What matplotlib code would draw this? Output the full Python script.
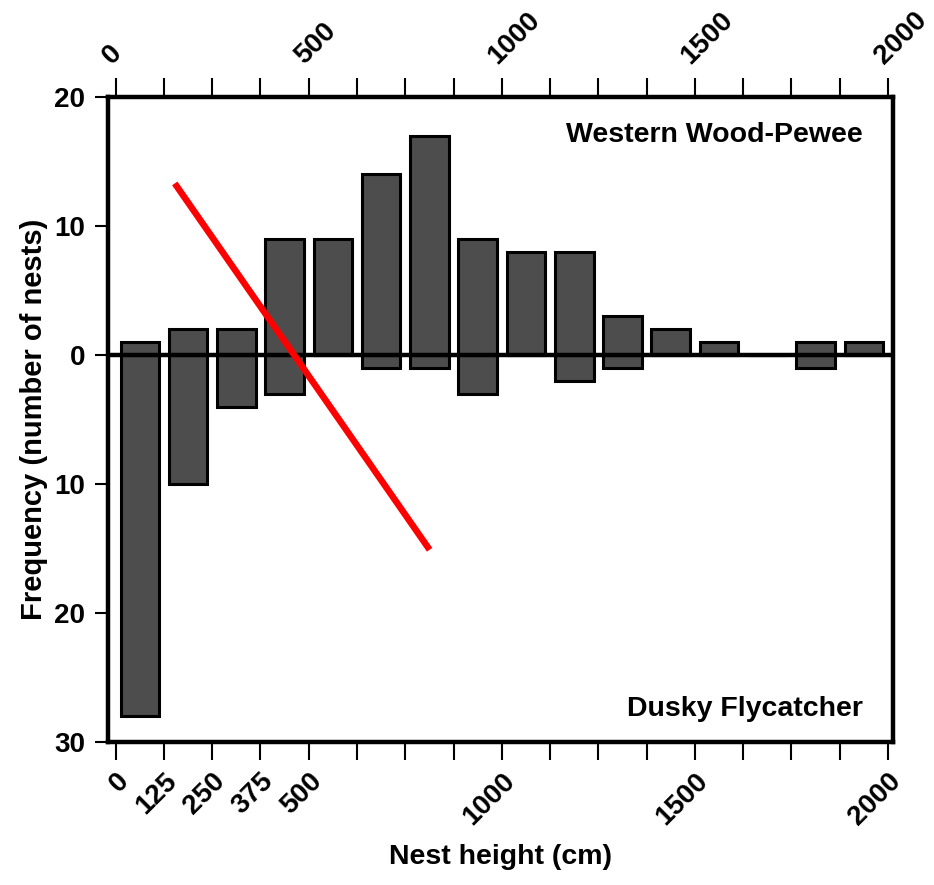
import matplotlib
matplotlib.use('Agg')
import matplotlib.pyplot as plt
import numpy as np

# nest height bins (cm), width 125
bin_left = [0, 125, 250, 375, 500, 625, 750, 875, 1000, 1125, 1250, 1375, 1500, 1625, 1750, 1875]
# counts per bin
pewee = [1, 2, 2, 9, 9, 14, 17, 9, 8, 8, 3, 2, 1, 0, 1, 1]
dusky = [28, 10, 4, 3, 0, 1, 1, 3, 0, 2, 1, 0, 0, 0, 1, 0]

# red line end points (cm, frequency)
line_x = [153, 813]
line_y = [13.3, -15.1]

bottom_ticks = np.arange(0, 2001, 125)
bottom_labels = ['0', '125', '250', '375', '500', '', '', '', '1000', '', '', '', '1500', '', '', '', '2000']
top_labels = ['0', '', '', '', '500', '', '', '', '1000', '', '', '', '1500', '', '', '', '2000']
y_ticks = [20, 10, 0, -10, -20, -30]
y_labels = ['20', '10', '0', '10', '20', '30']

plt.rcParams['font.family'] = ['Liberation Sans', 'DejaVu Sans']
plt.rcParams['font.weight'] = 'bold'

fig = plt.figure(figsize=(9.34, 8.85), dpi=100)
ax = fig.add_axes([0.1156, 0.1616, 0.8405, 0.7288])

centers = np.array(bin_left) + 62.5
barcol = '#4d4d4d'
ax.bar(centers, pewee, width=100, color=barcol, edgecolor='black', linewidth=2.2, zorder=2)
ax.bar(centers, -np.array(dusky), width=100, color=barcol, edgecolor='black', linewidth=2.2, zorder=2)

# zero line
ax.axhline(0, color='black', linewidth=3.2, zorder=3)

# red line
ax.plot(line_x, line_y, color='red', linewidth=4.7, zorder=4, solid_capstyle='butt')

ax.set_xlim(-20, 2013)
ax.set_ylim(-30, 20)

for s in ax.spines.values():
    s.set_linewidth(3.2)
    s.set_capstyle('projecting')

ax.set_xticks(bottom_ticks)
ax.set_xticklabels(bottom_labels, rotation=45, ha='right', va='top', rotation_mode='anchor')
ax.set_yticks(y_ticks)
ax.set_yticklabels(y_labels)
ax.tick_params(axis='x', direction='out', length=13, width=1.5, labelsize=20, pad=6)
ax.tick_params(axis='y', direction='out', length=9.5, width=1.5, labelsize=20, pad=7)

ax2 = ax.twiny()
ax2.set_xlim(ax.get_xlim())
ax2.set_xticks(bottom_ticks)
ax2.set_xticklabels(top_labels, rotation=45, ha='left', va='bottom', rotation_mode='anchor')
ax2.tick_params(axis='x', direction='out', length=14, width=1.5, labelsize=20, pad=6)
for s in ax2.spines.values():
    s.set_visible(False)

ax.set_xlabel('Nest height (cm)', fontsize=20.5, fontweight='bold', labelpad=10)
ax.set_ylabel('Frequency (number of nests)', fontsize=21, fontweight='bold', labelpad=4)

ax.text(0.962, 0.961, 'Western Wood-Pewee', transform=ax.transAxes, ha='right', va='top',
        fontsize=20.5, fontweight='bold')
ax.text(0.962, 0.031, 'Dusky Flycatcher', transform=ax.transAxes, ha='right', va='bottom',
        fontsize=20.5, fontweight='bold')

fig.savefig('out.png', dpi=100)
